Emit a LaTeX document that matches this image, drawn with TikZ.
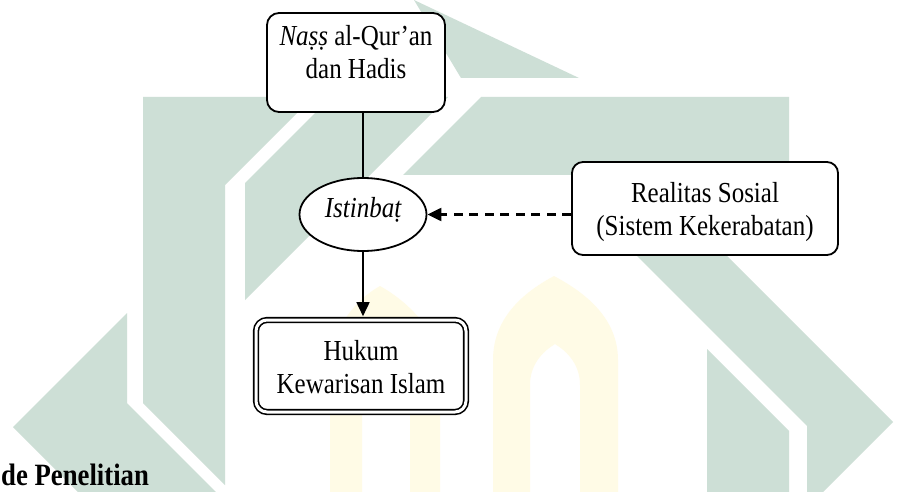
\documentclass[tikz,border=0pt]{standalone}
\usepackage{fontspec}
\setmainfont{Liberation Serif}[FakeStretch=0.862]
\usetikzlibrary{arrows.meta,shapes.geometric}
\definecolor{wmgreen}{RGB}{205,223,214}
\definecolor{wmyellow}{RGB}{255,251,230}
\begin{document}
\begin{tikzpicture}[x=1pt,y=-1pt,
  wm/.style={fill=wmgreen, draw=none},
  wmy/.style={fill=wmyellow, draw=none},
  txt/.style={font=\fontsize{29}{33}\selectfont, align=center, inner sep=0pt},
  rbox/.style={draw, line width=1.8pt, rounded corners=12pt, fill=white, inner sep=0pt},
  dbox/.style={draw, line width=1.6pt, double, double distance=3pt, rounded corners=11pt, fill=white, inner sep=0pt},
  oval/.style={ellipse, draw, line width=1.8pt, fill=white, inner sep=0pt, font=\fontsize{29}{33}\selectfont\itshape, text height=20pt, text depth=14pt},
  conn/.style={line width=1.7pt},
  tip/.style={-{Triangle[length=14pt,width=13pt]}},
  dashedconn/.style={line width=2.2pt, dash pattern=on 9pt off 6.5pt}
]
\useasboundingbox (0,0) rectangle (911,492);
\fill[white] (0,0) rectangle (911,492);

% watermark
\fill[wmy] (493,492) -- (493,360) .. controls (493,315) and (528,290) .. (554,276) .. controls (580,290) and (618,315) .. (618,360) -- (618,492) -- (580,492) -- (580,385) .. controls (580,365) and (568,352) .. (555,344) .. controls (542,352) and (530,365) .. (530,385) -- (530,492) -- cycle;
\fill[wmy] (330,492) -- (330,370) .. controls (330,330) and (355,300) .. (380,286) .. controls (405,300) and (440,330) .. (440,370) -- (440,492) -- (410,492) -- (410,395) .. controls (410,380) and (395,368) .. (385,362) .. controls (375,368) and (362,380) .. (362,395) -- (362,492) -- cycle;
\fill[wm] (414,0) -- (579,78) -- (461,78) -- cycle;
\fill[wm] (481,97) -- (789,97) -- (789,175) -- (403,175) -- cycle;
\fill[wm] (143,97) -- (313,97) -- (225,185) -- (225,485) -- (143,403) -- cycle;
\fill[wm] (245,183) -- (331,97) -- (448,97) -- (245,300) -- cycle;
\fill[wm] (127,313) -- (13,427) -- (78,492) -- (216,492) -- (127,403) -- cycle;
\fill[wm] (621,240) -- (711,240) -- (893,422) -- (823,492) -- (807,492) -- (807,426) -- cycle;
\fill[wm] (707,349) -- (789,431) -- (789,492) -- (707,492) -- cycle;

% boxes
\node[rbox, minimum width=178pt, minimum height=99pt] (nas) at (356,62.5) {};
\node[txt] (nastext) at (356,51.6) {\textit{Naṣṣ} al-Qur’an\\dan Hadis};

\node[oval, minimum width=127pt, minimum height=73pt] (ist) at (363,214.5) {Istinbaṭ};

\node[rbox, rounded corners=11pt, minimum width=266pt, minimum height=93pt] (rs) at (705,208.5) {};
\node[txt] (rstext) at (705,212) {Realitas Sosial\\(Sistem Kekerabatan)};

\node[dbox, minimum width=210pt, minimum height=92pt] (huk) at (361,366) {};
\node[txt] (huktext) at (361,366.6) {Hukum\\Kewarisan Islam};

\node[anchor=base west, inner sep=0pt, font=\bfseries\fontsize{31}{33}\selectfont] (hdr) at (1,485) {de Penelitian};

% connectors
\draw[conn] (ist.north) -- (ist.north |- nas.south);
\draw[conn, tip, shorten >=3pt] (ist.south) -- (ist.south |- huk.north);
\draw[dashedconn, tip] (rs.west |- ist.east) -- (ist.east);
\end{tikzpicture}
\end{document}
